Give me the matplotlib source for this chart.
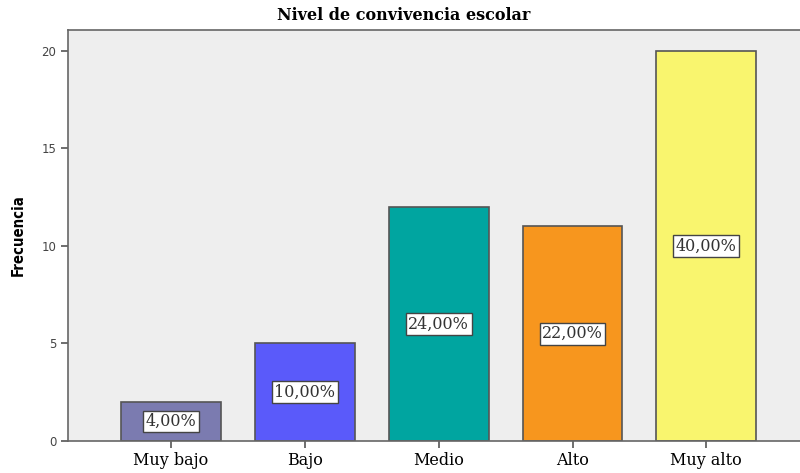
import matplotlib
matplotlib.use("Agg")
import matplotlib.pyplot as plt
import numpy as np

# Datos
categorias = ["Muy bajo", "Bajo", "Medio", "Alto", "Muy alto"]
frecuencias = [2, 5, 12, 11, 20]
porcentajes = ["4,00%", "10,00%", "24,00%", "22,00%", "40,00%"]
colores = ["#7b7bb0", "#5a5afa", "#00a5a0", "#f7961e", "#f9f56e"]

fig = plt.figure(figsize=(8, 4.73), dpi=100)
ax = fig.add_axes([0.085, 0.0677, 0.915, 0.869])
ax.set_facecolor("#eeeeee")

x = np.arange(len(categorias))
ax.bar(x, frecuencias, width=0.746, color=colores, edgecolor="#555555", linewidth=1.2)

# Etiquetas de porcentaje en el centro de cada barra
for xi, f, p in zip(x, frecuencias, porcentajes):
    ax.text(xi, f / 2, p, ha="center", va="center", fontsize=11.5,
            family="DejaVu Serif", color="#333333",
            bbox=dict(boxstyle="square,pad=0.15", facecolor="white",
                      edgecolor="#444444", linewidth=1))

ax.set_xlim(-0.77, 4.70)
ax.set_ylim(0, 21.08)
ax.set_xticks(x)
ax.set_xticklabels(categorias, family="DejaVu Serif", fontsize=11.5)
ax.set_yticks([0, 5, 10, 15, 20])
ax.tick_params(axis="y", labelsize=8.5, labelcolor="#444444", length=5, width=1.2, color="#555555")
ax.tick_params(axis="x", length=5, width=1.2, color="#555555", pad=3)

for s in ["left", "bottom", "top"]:
    ax.spines[s].set_color("#666666")
    ax.spines[s].set_linewidth(1.2)
ax.spines["right"].set_visible(False)

ax.set_ylabel("Frecuencia", fontsize=10.7, fontweight="bold", family="DejaVu Sans",
              stretch="condensed", labelpad=11)
fig.text(0.505, 0.967, "Nivel de convivencia escolar", ha="center", va="center",
         fontsize=11.5, fontweight="bold", family="DejaVu Serif")

fig.savefig("out.png", dpi=100)
